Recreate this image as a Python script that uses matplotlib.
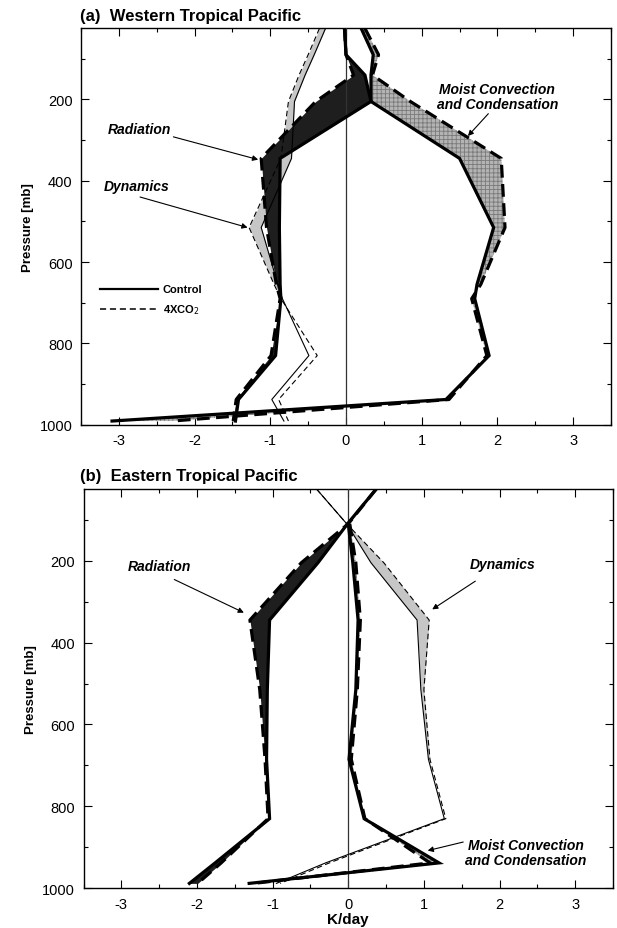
import matplotlib
matplotlib.use("Agg")
import matplotlib.pyplot as plt
import numpy as np
from matplotlib.ticker import MultipleLocator

plt.rcParams['font.family'] = ['Liberation Sans', 'DejaVu Sans']
plt.rcParams['hatch.linewidth'] = 0.6

# ---------------- Data: panel (a) Western Tropical Pacific ----------------
P_A = [25, 90, 140, 205, 345, 515, 655, 690, 830, 938, 991]
rad_ctrl_A = [-0.02, 0.00, 0.25, 0.33, -0.87, -0.88, -0.87, -0.86, -0.93, -1.42, -1.46]
rad_4x_A = [-0.02, 0.00, 0.10, -0.40, -1.12, -1.05, -0.92, -0.87, -0.99, -1.45, -1.49]
dyn_ctrl_A = [-0.27, -0.42, -0.54, -0.68, -0.72, -1.12, -0.90, -0.84, -0.49, -0.98, -0.82]
dyn_4x_A = [-0.35, -0.50, -0.62, -0.76, -0.86, -1.28, -0.95, -0.86, -0.38, -0.89, -0.76]
mc_ctrl_A = [0.20, 0.36, 0.33, 0.33, 1.50, 1.95, 1.73, 1.70, 1.89, 1.32, -3.09]
mc_4x_A = [0.25, 0.43, 0.35, 0.85, 2.05, 2.10, 1.78, 1.66, 1.86, 1.36, -2.30]

# ---------------- Data: panel (b) Eastern Tropical Pacific ----------------
P_B = [25, 110, 205, 345, 515, 685, 830, 938, 988]
rad_ctrl_B = [0.37, -0.01, -0.40, -1.04, -1.07, -1.08, -1.04, -1.76, -2.10]
rad_4x_B = [0.37, 0.00, -0.62, -1.30, -1.17, -1.10, -1.06, -1.68, -1.99]
dyn_ctrl_B = [-0.42, -0.02, 0.30, 0.91, 0.96, 1.06, 1.27, -0.30, -0.95]
dyn_4x_B = [-0.42, -0.02, 0.47, 1.07, 1.00, 1.08, 1.29, -0.25, -0.90]
mc_ctrl_B = [np.nan, 0.00, 0.06, 0.13, 0.10, 0.01, 0.21, 1.20, -1.31]
mc_4x_B = [np.nan, 0.02, 0.10, 0.16, 0.12, 0.04, 0.22, 1.08, -1.25]

# pressure range over which the control/4xCO2 difference is shaded
DYN_SHADE_MAX = 690

x_ticks = [-3, -2, -1, 0, 1, 2, 3]
y_ticks = [200, 400, 600, 800, 1000]

RAD_FILL = '#1e1e1e'
DYN_FILL = '#c6c6c6'
MC_FILL = '#b4b4b4'

W, H = 617, 929
fig = plt.figure(figsize=(W / 100, H / 100), dpi=100)


def axes_px(l, r, t, b):
    return fig.add_axes([l / W, 1 - b / H, (r - l) / W, (b - t) / H])


ax_a = axes_px(81, 611, 29.3, 425.7)
ax_b = axes_px(83.5, 613, 490, 889.3)


def draw_pair(ax, p, ctrl, quad, fill, thick, shade_max=None, hatch=None):
    p = np.asarray(p, float)
    ctrl = np.asarray(ctrl, float)
    quad = np.asarray(quad, float)
    lw = 2.3 if thick else 0.8
    where = np.isfinite(ctrl) & np.isfinite(quad)
    if shade_max is not None:
        where &= p <= shade_max
    if hatch:
        ax.fill_betweenx(p, ctrl, quad, where=where, facecolor=fill,
                         edgecolor='#7a7a7a', hatch=hatch, lw=0, zorder=2)
    else:
        ax.fill_betweenx(p, ctrl, quad, where=where, color=fill, lw=0, zorder=2)
    ax.plot(ctrl, p, color='black', lw=lw, solid_joinstyle='miter', zorder=4)
    ax.plot(quad, p, color='black', lw=lw, ls=(0, (4, 2)) if thick else (0, (5, 3)),
            zorder=4)


def style(ax):
    ax.set_xlim(-3.5, 3.5)
    ax.set_ylim(1000, 25)
    ax.axvline(0, color='#333333', lw=0.9, zorder=3)
    ax.set_xticks(x_ticks)
    ax.set_xticklabels([str(v) for v in x_ticks])
    ax.xaxis.set_minor_locator(MultipleLocator(0.5))
    ax.set_yticks(y_ticks)
    ax.yaxis.set_minor_locator(MultipleLocator(100))
    ax.tick_params(which='both', direction='in', top=True, right=True,
                   labelsize=10.5, width=0.8)
    ax.tick_params(which='major', length=6, pad=6)
    ax.tick_params(which='minor', length=3)
    ax.set_ylabel('Pressure [mb]', fontsize=9.5, fontweight='bold', labelpad=4)
    for s in ax.spines.values():
        s.set_linewidth(1.0)


for ax, P, rc, r4, dc, d4, mc, m4 in [
        (ax_a, P_A, rad_ctrl_A, rad_4x_A, dyn_ctrl_A, dyn_4x_A, mc_ctrl_A, mc_4x_A),
        (ax_b, P_B, rad_ctrl_B, rad_4x_B, dyn_ctrl_B, dyn_4x_B, mc_ctrl_B, mc_4x_B)]:
    draw_pair(ax, P, dc, d4, DYN_FILL, False, shade_max=DYN_SHADE_MAX)
    draw_pair(ax, P, mc, m4, MC_FILL, True, hatch='++++')
    draw_pair(ax, P, rc, r4, RAD_FILL, True)
    style(ax)

ax_b.set_xlabel('K/day', fontsize=11, fontweight='bold', labelpad=1)

ann_kw = dict(fontsize=10, fontstyle='italic', fontweight='bold', ha='center',
              va='center')
arr = dict(arrowstyle='-|>', lw=0.8, color='black', mutation_scale=8,
           shrinkA=0, shrinkB=0)

# panel (a) annotations
ax_a.text(2.0, 193, 'Moist Convection\nand Condensation', linespacing=1.05, **ann_kw)
ax_a.annotate('', xy=(1.61, 290), xytext=(1.88, 235), arrowprops=arr)
ax_a.text(-2.73, 272, 'Radiation', **ann_kw)
ax_a.annotate('', xy=(-1.16, 348), xytext=(-2.28, 292), arrowprops=arr)
ax_a.text(-2.77, 412, 'Dynamics', **ann_kw)
ax_a.annotate('', xy=(-1.30, 515), xytext=(-2.72, 440), arrowprops=arr)

# legend (panel a)
ax_a.plot([-3.25, -2.48], [665, 665], color='black', lw=1.6)
ax_a.plot([-3.25, -2.48], [715, 715], color='black', lw=1.1, ls=(0, (4, 2.5)))
ax_a.text(-2.42, 665, 'Control', fontsize=8, fontweight='bold', va='center')
ax_a.text(-2.42, 715, '4XCO$_2$', fontsize=8, fontweight='bold', va='center')

# panel (b) annotations
ax_b.text(-2.5, 213, 'Radiation', **ann_kw)
ax_b.annotate('', xy=(-1.38, 327), xytext=(-2.30, 246), arrowprops=arr)
ax_b.text(2.04, 207, 'Dynamics', **ann_kw)
ax_b.annotate('', xy=(1.11, 319), xytext=(1.68, 250), arrowprops=arr)
ax_b.text(2.35, 912, 'Moist Convection\nand Condensation', linespacing=1.05, **ann_kw)
ax_b.annotate('', xy=(1.05, 908), xytext=(1.52, 887), arrowprops=arr)

# panel titles
fig.text(80 / W, 1 - 17 / H, '(a)  Western Tropical Pacific', fontsize=12,
         fontweight='bold', va='center', ha='left')
fig.text(80 / W, 1 - 477 / H, '(b)  Eastern Tropical Pacific', fontsize=12,
         fontweight='bold', va='center', ha='left')

fig.savefig('out.png', dpi=100)
